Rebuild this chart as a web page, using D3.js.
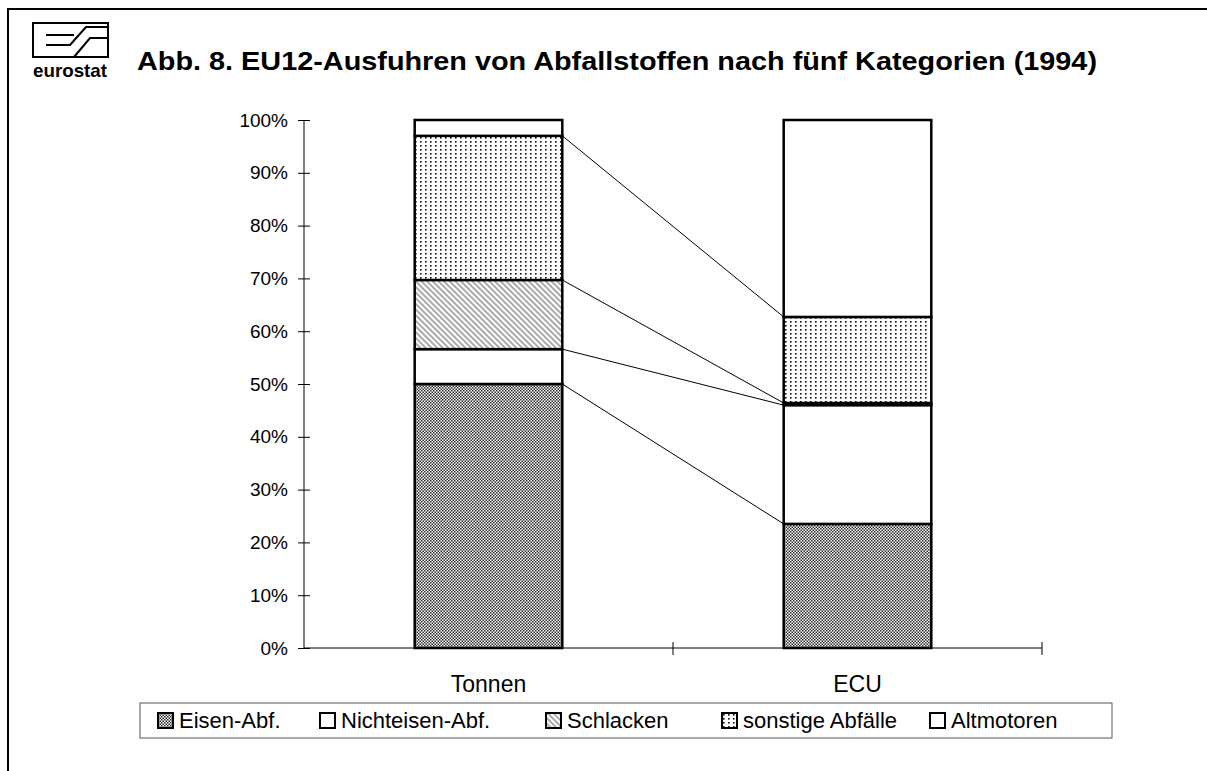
<!DOCTYPE html>
<html>
<head>
<meta charset="utf-8">
<script src="https://cdn.jsdelivr.net/npm/d3@7"></script>
<style>
  body { margin: 0; background: #fff; }
  svg { display: block; font-family: "Liberation Sans", Arial, Helvetica, sans-serif; }
</style>
</head>
<body>
<script>
// chart data (shares in %, bottom to top)
const categories = ['Tonnen', 'ECU']
const seriesNames = ['Eisen-Abf.', 'Nichteisen-Abf.', 'Schlacken', 'sonstige Abfälle', 'Altmotoren']
const eisen = [50.0, 23.5]
const nichteisen = [6.6, 22.5]
const schlacken = [13.1, 0.4]
const sonstige = [27.3, 16.3]
const altmotoren = [3.0, 37.3]
const yTicks = [0, 10, 20, 30, 40, 50, 60, 70, 80, 90, 100]
const title = 'Abb. 8. EU12-Ausfuhren von Abfallstoffen nach fünf Kategorien (1994)'

const svgWidth = 1207
const svgHeight = 771

const margin = { top: 120, left: 304, right: 165, bottom: 123 }
const width = svgWidth - margin.left - margin.right
const height = svgHeight - margin.top - margin.bottom

const svg = d3.select('body')
    .append('svg')
    .attr('width', svgWidth)
    .attr('height', svgHeight)

// fill patterns like the printed original
const defs = svg.append('defs')

const pEisen = defs.append('pattern')
    .attr('id', 'p-eisen')
    .attr('patternUnits', 'userSpaceOnUse')
    .attr('width', 3).attr('height', 3)
pEisen.append('rect').attr('width', 3).attr('height', 3).attr('fill', '#fff')
pEisen.append('rect').attr('width', 1.5).attr('height', 1.5).attr('fill', '#2a2a2a')
pEisen.append('rect').attr('x', 1.5).attr('y', 1.5).attr('width', 1.5).attr('height', 1.5).attr('fill', '#2a2a2a')

const pSchl = defs.append('pattern')
    .attr('id', 'p-schlacken')
    .attr('patternUnits', 'userSpaceOnUse')
    .attr('width', 4).attr('height', 4)
    .attr('patternTransform', 'rotate(-45)')
pSchl.append('rect').attr('width', 4).attr('height', 4).attr('fill', '#fff')
pSchl.append('line').attr('x1', 1).attr('x2', 1).attr('y1', 0).attr('y2', 4)
    .attr('stroke', '#555').attr('stroke-width', 1)

const pSonst = defs.append('pattern')
    .attr('id', 'p-sonstige')
    .attr('patternUnits', 'userSpaceOnUse')
    .attr('width', 5).attr('height', 4)
pSonst.append('rect').attr('width', 5).attr('height', 4).attr('fill', '#fff')
pSonst.append('rect').attr('x', 1).attr('y', 1).attr('width', 1.6).attr('height', 1.6).attr('fill', '#111')

const fills = ['url(#p-eisen)', '#fff', 'url(#p-schlacken)', 'url(#p-sonstige)', '#fff']

// outer frame (top and left only)
svg.append('path')
    .attr('d', 'M8,771 V9 H1207')
    .attr('fill', 'none')
    .attr('stroke', '#000')
    .attr('stroke-width', 2)

// eurostat logo
const logo = svg.append('g').attr('fill', 'none').attr('stroke', '#000').attr('stroke-width', 2)
logo.append('rect').attr('x', 33).attr('y', 23).attr('width', 75).attr('height', 34)
logo.append('path').attr('d', 'M46,35 H74')
logo.append('path').attr('d', 'M46,45 H70 L86,27 H108')
logo.append('path').attr('d', 'M74,57 L90,38 H108')
svg.append('text')
    .attr('x', 70).attr('y', 77)
    .attr('text-anchor', 'middle')
    .attr('font-size', 19)
    .attr('font-weight', 'bold')
    .attr('textLength', 74)
    .attr('lengthAdjust', 'spacingAndGlyphs')
    .text('eurostat')

// title
svg.append('text')
    .attr('x', 137).attr('y', 70)
    .attr('font-size', 25)
    .attr('font-weight', 'bold')
    .attr('textLength', 960)
    .attr('lengthAdjust', 'spacingAndGlyphs')
    .text(title)

const chartGroup = svg.append('g')
    .attr('transform', `translate(${margin.left}, ${margin.top})`)

// scales
const xScale = d3.scaleBand()
    .domain(categories)
    .range([0, width])
    .paddingInner(0.6)
    .paddingOuter(0.3)

const yScale = d3.scaleLinear()
    .domain([0, 100])
    .range([height, 0])

// stacked data
const table = categories.map((c, i) => ({
    cat: c,
    s0: eisen[i], s1: nichteisen[i], s2: schlacken[i], s3: sonstige[i], s4: altmotoren[i]
}))
const keys = ['s0', 's1', 's2', 's3', 's4']
const stacked = d3.stack().keys(keys)(table)

// y axis with ticks crossing the line
const yAxis = d3.axisLeft(yScale).tickValues(yTicks).tickFormat(d => d + '%').tickSize(6).tickPadding(10)
const yG = chartGroup.append('g').call(yAxis)
yG.select('.domain').attr('d', `M0,${height}V0`).attr('stroke', '#000')
yG.selectAll('.tick line').attr('x1', 6).attr('x2', -6).attr('stroke', '#000')
yG.selectAll('.tick text')
    .attr('font-size', 19)
    .attr('font-family', '"Liberation Sans", Arial, sans-serif')
    .attr('fill', '#000')

// x axis: line with boundary ticks between the categories
const xAxis = d3.axisBottom(xScale).tickSize(0).tickPadding(28)
const xG = chartGroup.append('g')
    .attr('transform', `translate(0, ${height})`)
    .call(xAxis)
xG.select('.domain').attr('d', `M0,0H${width}`).attr('stroke', '#000')
xG.selectAll('.tick text')
    .attr('font-size', 23)
    .attr('font-family', '"Liberation Sans", Arial, sans-serif')
    .attr('fill', '#000')
const bounds = [width / 2, width]
xG.selectAll('.bound')
    .data(bounds)
    .enter()
    .append('line')
    .attr('x1', d => d).attr('x2', d => d)
    .attr('y1', -6).attr('y2', 7)
    .attr('stroke', '#000')

// series lines between the two columns
const lineData = stacked.slice(0, 4).map(s => s.map(d => d[1]))
chartGroup.selectAll('.series-line')
    .data(lineData)
    .enter()
    .append('line')
    .attr('class', 'series-line')
    .attr('x1', xScale(categories[0]) + xScale.bandwidth())
    .attr('x2', xScale(categories[1]))
    .attr('y1', d => yScale(d[0]))
    .attr('y2', d => yScale(d[1]))
    .attr('stroke', '#000')
    .attr('stroke-width', 1)

// stacked bars
const layers = chartGroup.selectAll('.layer')
    .data(stacked)
    .enter()
    .append('g')
    .attr('class', 'layer')
    .attr('fill', (d, i) => fills[i])

layers.selectAll('rect')
    .data(d => d)
    .enter()
    .append('rect')
    .attr('x', d => xScale(d.data.cat))
    .attr('y', d => yScale(d[1]))
    .attr('width', xScale.bandwidth())
    .attr('height', d => yScale(d[0]) - yScale(d[1]))
    .attr('stroke', '#000')
    .attr('stroke-width', 2.5)

// legend
const legendX = [158, 320, 546, 722, 930]
const legend = svg.append('g')
legend.append('rect')
    .attr('x', 140).attr('y', 703)
    .attr('width', 972).attr('height', 35)
    .attr('fill', 'none')
    .attr('stroke', '#555')
    .attr('stroke-width', 1)

const items = legend.selectAll('.item')
    .data(seriesNames)
    .enter()
    .append('g')
    .attr('class', 'item')
    .attr('transform', (d, i) => `translate(${legendX[i]}, 713)`)

items.append('rect')
    .attr('width', 15).attr('height', 15)
    .attr('fill', (d, i) => fills[i])
    .attr('stroke', '#000')
    .attr('stroke-width', 2)

items.append('text')
    .attr('x', 21).attr('y', 15)
    .attr('font-size', 22)
    .text(d => d)
</script>
</body>
</html>
